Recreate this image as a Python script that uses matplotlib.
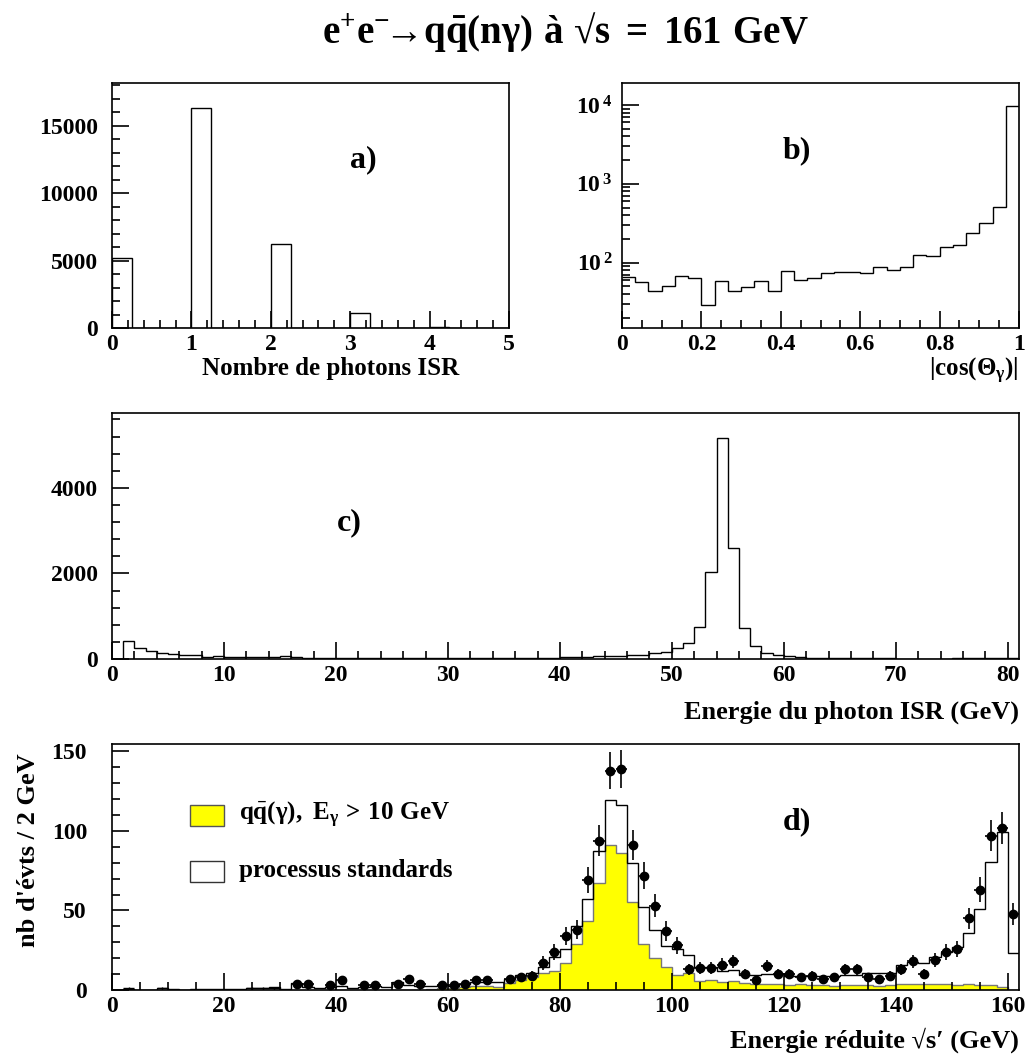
import numpy as np
import matplotlib
matplotlib.use("Agg")
import matplotlib.pyplot as plt
from matplotlib.patches import Rectangle
from matplotlib.ticker import MultipleLocator, FixedLocator, FuncFormatter, NullFormatter

plt.rcParams['font.family'] = ['Liberation Serif', 'DejaVu Serif']
plt.rcParams['font.weight'] = 'bold'
plt.rcParams['mathtext.fontset'] = 'custom'
plt.rcParams['mathtext.rm'] = 'Liberation Serif:bold'
plt.rcParams['mathtext.it'] = 'Liberation Serif:bold'
plt.rcParams['mathtext.bf'] = 'Liberation Serif:bold'

# a) nombre de photons ISR (bins de 0.25)
a_counts = [5160, 0, 0, 0, 16320, 0, 0, 0, 6220, 0,
            0, 0, 1090, 0, 0, 0, 60, 0, 0, 0]

# b) |cos(theta_gamma)| (30 bins)
b_counts = [66, 56, 44, 51, 68, 63, 29, 58, 44, 49,
            58, 43, 78, 60, 63, 73, 75, 75, 74, 88,
            81, 88, 125, 123, 158, 168, 236, 316, 510, 9800]

# c) energie du photon ISR (bins de 1 GeV, 0-81)
c_counts = [0, 412, 257, 178, 140, 116, 85, 101, 46, 70,
            42, 40, 40, 38, 38, 77, 38, 30, 35, 25,
            30, 35, 25, 20, 22, 25, 22, 20, 22, 20,
            20, 22, 20, 18, 20, 20, 18, 20, 22, 25,
            47, 52, 55, 70, 70, 72, 94, 101, 140, 164,
            257, 374, 740, 2026, 5170, 2596, 725, 296, 140, 85,
            62, 47, 30, 25, 23, 22, 20, 15, 14, 12,
            10, 10, 10, 10, 10, 12, 25, 25, 25, 25, 25]

# d) energie reduite (bins de 2 GeV, 0-162)
d_standard = [0.3, 0.5, 0.3, 0.3, 1.0, 0.8, 0.3, 0.5, 0.5, 0.7,
              0.6, 0.8, 1.5, 1.5, 2.0, 0.8, 4.5, 2.0, 1.5, 2.0,
              2.5, 1.5, 2.0, 2.5, 2.0, 4.8, 3.0, 2.5, 2.5, 3.0,
              2.5, 4.0, 5.0, 5.0, 5.2, 7.0, 9.4, 11.0, 14.7, 21.0,
              25.6, 40.5, 57.0, 87.5, 119.6, 116.5, 80.0, 52.0, 37.8, 27.9,
              26.0, 22.0, 14.7, 14.7, 12.2, 12.5, 9.4, 9.4, 10.0, 10.0,
              8.8, 8.8, 8.8, 8.5, 8.8, 9.3, 9.3, 10.5, 10.5, 10.5,
              15.7, 17.8, 17.0, 21.0, 24.1, 27.3, 35.7, 51.0, 80.4, 99.5, 23.5]
d_qqgamma = [0, 0, 0, 0, 0, 0, 0, 0, 0, 0,
             0, 0, 0, 0, 0, 0, 0, 0, 0, 0,
             0, 0, 0, 0, 0, 0, 0, 0, 0.8, 1.0,
             1.5, 2.0, 2.5, 2.5, 2.0, 4.5, 6.3, 8.0, 10.9, 12.0,
             17.0, 29.0, 43.4, 67.2, 90.9, 86.1, 55.2, 28.8, 19.9, 14.7,
             9.3, 11.0, 5.5, 6.0, 5.0, 5.5, 4.5, 4.0, 3.5, 3.5,
             3.0, 3.5, 3.0, 3.0, 2.8, 3.0, 3.2, 3.0, 2.8, 3.0,
             3.5, 3.8, 3.5, 4.0, 3.6, 3.4, 3.5, 3.2, 3.0, 2.0, 0]
data_x = [33, 35, 39, 41, 45, 47, 51, 53, 55, 59, 61, 63, 65, 67,
          71, 73, 75, 77, 79, 81, 83, 85, 87, 89, 91, 93, 95, 97, 99,
          101, 103, 105, 107, 109, 111, 113, 115, 117, 119, 121, 123, 125, 127, 129,
          131, 133, 135, 137, 139, 141, 143, 145, 147, 149, 151, 153, 155, 157, 159, 161]
data_n = [4, 4, 3, 6, 3, 3, 4, 7, 4, 3, 3, 4, 6, 6,
          7, 8, 9, 17, 24, 34, 38, 69, 94, 138, 139, 91, 72, 53, 37,
          28, 13, 14, 14, 16, 18, 10, 6, 15, 10, 10, 8, 9, 7, 8,
          13, 13, 8, 7, 9, 13, 18, 10, 19, 24, 26, 45, 63, 97, 102, 48]
single_x = [3, 9, 25, 27, 29]
single_n = [1, 1, 1, 1, 1]

fig = plt.figure(figsize=(10.27, 10.59), dpi=100)
H = 1059.0
W = 1027.0


def make_axes(x0, x1, y0, y1):
    return fig.add_axes([x0 / W, 1 - y1 / H, (x1 - x0) / W, (y1 - y0) / H])


def style(ax, xmaj, xmin, ymaj, ymin, ypad):
    ax.xaxis.set_major_locator(MultipleLocator(xmaj))
    ax.xaxis.set_minor_locator(MultipleLocator(xmin))
    if ymaj is not None:
        ax.yaxis.set_major_locator(MultipleLocator(ymaj))
        ax.yaxis.set_minor_locator(MultipleLocator(ymin))
    ax.tick_params(which='both', direction='in', top=False, right=False,
                   width=1.2, labelsize=17)
    ax.tick_params(which='major', length=12)
    ax.tick_params(which='minor', length=6)
    ax.tick_params(axis='x', pad=4)
    ax.tick_params(axis='y', pad=ypad)
    for s in ax.spines.values():
        s.set_linewidth(1.2)


# ---- a)
ax = make_axes(112, 509, 83, 328)
ax.stairs(a_counts, np.linspace(0, 5, len(a_counts) + 1), color='k', lw=1.0)
ax.set_xlim(0, 5)
ax.set_ylim(0, 18150)
style(ax, 1, 0.2, 5000, 1000, 10)
ax.text(3.17, 12500, 'a)', fontsize=23, ha='center', va='center')

# ---- b)
ax = make_axes(622, 1019, 83, 328)
ax.stairs(b_counts, np.linspace(0, 1, len(b_counts) + 1), color='k', lw=1.0,
          baseline=None)
ax.set_yscale('log')
ax.set_xlim(0, 1)
ax.set_ylim(14.8, 19000)
style(ax, 0.2, 0.05, None, None, 7)
ax.yaxis.set_major_locator(FixedLocator([100, 1000, 10000]))
ax.yaxis.set_minor_locator(FixedLocator([m * 10 ** e for e in range(1, 5) for m in range(2, 10)]))
ax.yaxis.set_minor_formatter(NullFormatter())
ax.yaxis.set_major_formatter(FuncFormatter(lambda v, p: r'$\mathrm{10^{\,%d}}$' % round(np.log10(v))))
ax.xaxis.set_major_formatter(FuncFormatter(lambda v, p: '%g' % round(v, 2)))
ax.text(0.44, 2600, 'b)', fontsize=23, ha='center', va='center')

# ---- c)
ax = make_axes(112, 1019, 413, 659)
ax.stairs(c_counts, np.arange(len(c_counts) + 1), color='k', lw=1.0)
ax.set_xlim(0, 81)
ax.set_ylim(0, 5750)
style(ax, 10, 2, 2000, 400, 10)
ax.text(21.2, 3190, 'c)', fontsize=23, ha='center', va='center')

# ---- d)
ax = make_axes(112, 1019, 744, 990)
d_edges = np.arange(0, 2 * len(d_standard) + 1, 2)
ax.stairs(d_qqgamma, d_edges, fill=True, facecolor='yellow', edgecolor='#777777', lw=1.0)
ax.stairs(d_standard, d_edges, color='k', lw=1.0)
ax.errorbar(data_x, data_n, yerr=np.sqrt(data_n), xerr=1, fmt='o', color='k',
            ms=6, elinewidth=1.2, capsize=0, zorder=4)
ax.errorbar(single_x, single_n, yerr=np.sqrt(single_n), xerr=1, fmt='none',
            ecolor='k', elinewidth=1.0, capsize=0, zorder=4)
ax.set_xlim(0, 162)
ax.set_ylim(0, 154.7)
style(ax, 20, 5, 50, 10, 18)
ax.text(122.3, 105.8, 'd)', fontsize=23, ha='center', va='center')
ax.add_patch(Rectangle((13.9, 103.3), 6.1, 13.2, facecolor='yellow', edgecolor='#555555', lw=1.0))
ax.add_patch(Rectangle((13.9, 68.0), 6.1, 13.2, facecolor='white', edgecolor='#333333', lw=1.0))
ax.text(22.7, 110.2, r'$\mathrm{q\bar{q}(γ),\ E_{γ}\,>\,10\ GeV}$', fontsize=18, va='center')
ax.text(22.7, 74.9, 'processus standards', fontsize=18, va='center')

# textes de la figure
fig.text(566 / W, 1 - 32 / H,
         r'$\mathrm{e^{+}e^{-}\!→q\bar{q}(nγ)\ à\ √s\;=\;161\ GeV}$',
         fontsize=28, ha='center', va='center')
fig.text(331 / W, 1 - 368 / H, 'Nombre de photons ISR', fontsize=18, ha='center', va='center')
fig.text(1019 / W, 1 - 371 / H, r'$\mathrm{|cos(Θ_{γ})|}$', fontsize=18, ha='right', va='center')
fig.text(1019 / W, 1 - 712 / H, 'Energie du photon ISR (GeV)', fontsize=19, ha='right', va='center')
fig.text(1019 / W, 1 - 1040 / H, 'Energie réduite √s′ (GeV)', fontsize=19, ha='right', va='center')
fig.text(29 / W, 1 - 850 / H, "nb d'évts / 2 GeV", fontsize=19, rotation=90, ha='center', va='center')

fig.savefig('out.png', dpi=100)
